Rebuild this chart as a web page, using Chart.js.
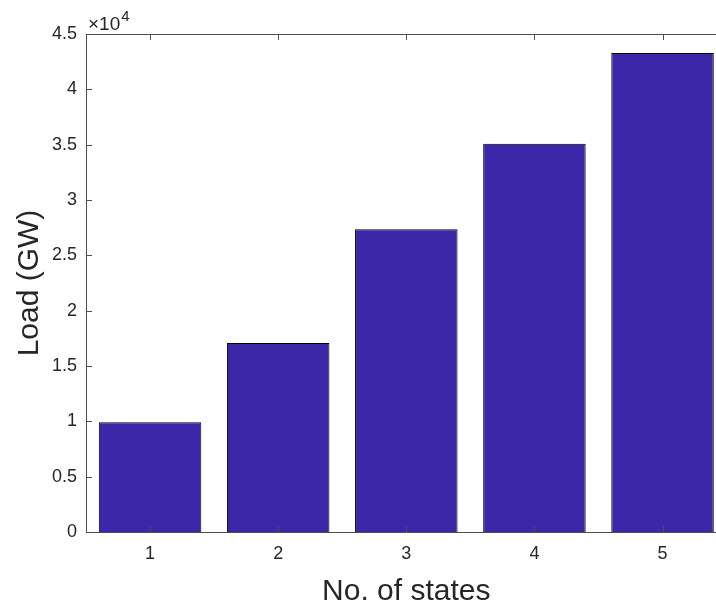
<!DOCTYPE html>
<html>
<head>
<meta charset="utf-8">
<script src="https://cdn.jsdelivr.net/npm/chart.js@4"></script>
<style>
  html, body { margin: 0; padding: 0; background: #fff; overflow: hidden; }
  #wrap { width: 716px; height: 605px; overflow: hidden; }
</style>
</head>
<body>
<div id="wrap"><canvas id="loadChart" width="760" height="605"></canvas></div>
<script>
// number of states -> total load
const states = ["1", "2", "3", "4", "5"];
const loadGW = [9920, 17080, 27360, 35080, 43290];
const yTicks = [0, 5000, 10000, 15000, 20000, 25000, 30000, 35000, 40000, 45000];
const yScaleFactor = 10000;

const FONT = "'Liberation Sans', Arial, Helvetica, sans-serif";
const AXIS_COLOR = "#4d4d4d";
const TEXT_COLOR = "#262626";

// axes box, inward tick marks, axis titles and the exponent label
const axesDecor = {
    id: "axesDecor",
    afterDraw(chart) {
        const { ctx, chartArea: a, scales } = chart;
        const x = scales.x, y = scales.y;
        const tick = 6;
        ctx.save();
        ctx.strokeStyle = AXIS_COLOR;
        ctx.lineWidth = 1;
        ctx.beginPath();
        ctx.moveTo(a.left + 0.5, a.top + 0.5);
        ctx.lineTo(a.right, a.top + 0.5);
        ctx.moveTo(a.left + 0.5, a.top);
        ctx.lineTo(a.left + 0.5, a.bottom + 0.5);
        ctx.lineTo(a.right, a.bottom + 0.5);
        ctx.lineTo(a.right, a.top);
        // x ticks (bottom and top)
        states.forEach((s, i) => {
            const px = Math.round(x.getPixelForValue(i)) + 0.5;
            ctx.moveTo(px, a.bottom);
            ctx.lineTo(px, a.bottom - tick);
            ctx.moveTo(px, a.top);
            ctx.lineTo(px, a.top + tick);
        });
        // y ticks (left and right)
        yTicks.forEach((v) => {
            const py = Math.round(y.getPixelForValue(v)) + 0.5;
            ctx.moveTo(a.left, py);
            ctx.lineTo(a.left + tick, py);
            ctx.moveTo(a.right, py);
            ctx.lineTo(a.right - tick, py);
        });
        ctx.stroke();

        ctx.fillStyle = TEXT_COLOR;
        // x axis title
        ctx.font = "30px " + FONT;
        ctx.textAlign = "center";
        ctx.textBaseline = "alphabetic";
        ctx.fillText("No. of states", (a.left + a.right) / 2, 600);
        // y axis title
        ctx.save();
        ctx.translate(38, (a.top + a.bottom) / 2);
        ctx.rotate(-Math.PI / 2);
        ctx.fillText("Load (GW)", 0, 0);
        ctx.restore();
        // exponent label above the y axis
        ctx.textAlign = "left";
        ctx.font = "19px " + FONT;
        const base = "\u00d710";
        ctx.fillText(base, a.left + 2, 29.5);
        const w = ctx.measureText(base).width;
        ctx.font = "15px " + FONT;
        ctx.fillText("4", a.left + 3 + w, 21);
        ctx.restore();
    }
};

new Chart(document.getElementById("loadChart"), {
    type: "bar",
    data: {
        labels: states,
        datasets: [{
            label: "Load (GW)",
            data: loadGW,
            backgroundColor: "#3c27a8",
            borderColor: "#000000",
            borderWidth: 1,
            barPercentage: 0.8,
            categoryPercentage: 1.0
        }]
    },
    options: {
        responsive: false,
        animation: false,
        layout: {
            padding: { left: 0, top: 34, right: 33.4, bottom: 0 }
        },
        plugins: {
            legend: { display: false },
            tooltip: { enabled: false }
        },
        scales: {
            x: {
                offset: true,
                grid: { display: false, drawTicks: false },
                border: { display: false },
                ticks: {
                    color: TEXT_COLOR,
                    padding: 11,
                    font: { family: FONT, size: 18 }
                },
                afterFit(scale) { scale.height = 73; }
            },
            y: {
                min: 0,
                max: 45000,
                grid: { display: false, drawTicks: false },
                border: { display: false },
                afterBuildTicks(scale) {
                    scale.ticks = yTicks.map((v) => ({ value: v }));
                },
                ticks: {
                    color: TEXT_COLOR,
                    padding: 9,
                    font: { family: FONT, size: 18 },
                    callback: (v) => String(v / yScaleFactor)
                },
                afterFit(scale) { scale.width = 86; }
            }
        }
    },
    plugins: [axesDecor]
});
</script>
</body>
</html>
